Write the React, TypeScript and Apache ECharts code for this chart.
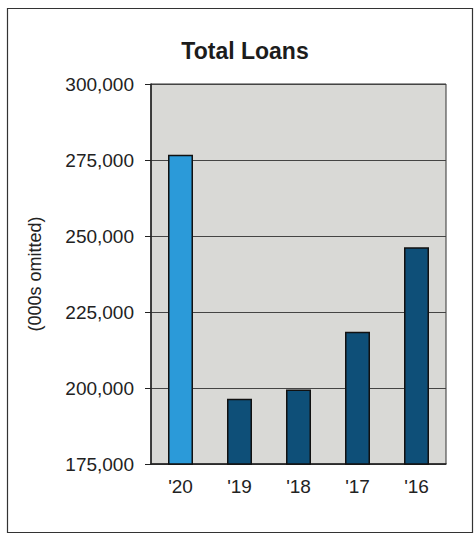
import React, { useEffect, useRef } from "react";
import * as echarts from "echarts";

const categories = ["'20", "'19", "'18", "'17", "'16"];
const loans = [276700, 196500, 199500, 218500, 246300];
const barColors = ["#2b9ad9", "#0e4f78", "#0e4f78", "#0e4f78", "#0e4f78"];
const yTicks = { min: 175000, max: 300000, interval: 25000 };

export default function App() {
  const ref = useRef<HTMLDivElement>(null);
  useEffect(() => {
    const chart = echarts.init(ref.current!, null, { renderer: "svg" });
    const font = "'Liberation Sans', Arial, sans-serif";
    chart.setOption({
      animation: false,
      backgroundColor: "#ffffff",
      textStyle: { fontFamily: font },
      graphic: [
        {
          type: "rect",
          shape: { x: 7.5, y: 8.5, width: 465, height: 524 },
          style: { fill: "none", stroke: "#333", lineWidth: 1.2 },
          silent: true,
          z: -1,
        },
      ],
      title: {
        text: "Total Loans",
        left: 240,
        textAlign: "center",
        top: 34,
        textStyle: { fontFamily: font, fontSize: 23, fontWeight: "bold", color: "#1c1c1c" },
      },
      grid: {
        left: 151,
        right: 29,
        top: 84,
        bottom: 71,
        show: true,
        backgroundColor: "#d9d9d6",
        borderColor: "#333",
        borderWidth: 1,
      },
      xAxis: {
        type: "category",
        data: categories,
        axisTick: { show: false },
        axisLine: { lineStyle: { color: "#222", width: 1.5 } },
        axisLabel: { fontSize: 19, color: "#222", margin: 13, fontFamily: font },
      },
      yAxis: {
        type: "value",
        min: yTicks.min,
        max: yTicks.max,
        interval: yTicks.interval,
        name: "(000s omitted)",
        nameLocation: "middle",
        nameRotate: 90,
        nameGap: 107,
        nameTextStyle: { fontSize: 18, color: "#222", fontFamily: font },
        axisLine: { show: true, lineStyle: { color: "#222", width: 1.5 } },
        axisTick: { show: true, length: 6, lineStyle: { color: "#222" } },
        axisLabel: {
          fontSize: 19,
          color: "#222",
          margin: 17,
          fontFamily: font,
          formatter: (v: number) => v.toLocaleString("en-US"),
        },
        splitLine: { show: true, lineStyle: { color: "#444", width: 1 } },
      },
      series: [
        {
          type: "bar",
          barWidth: 25,
          data: loans.map((v, i) => ({ value: v, itemStyle: { color: barColors[i] } })),
          itemStyle: { borderColor: "#111", borderWidth: 1.5 },
        },
      ],
    });
    return () => chart.dispose();
  }, []);
  return (
    <div
      ref={ref}
      style={{ position: "absolute", left: 0, top: 0, width: 475, height: 535 }}
    />
  );
}
